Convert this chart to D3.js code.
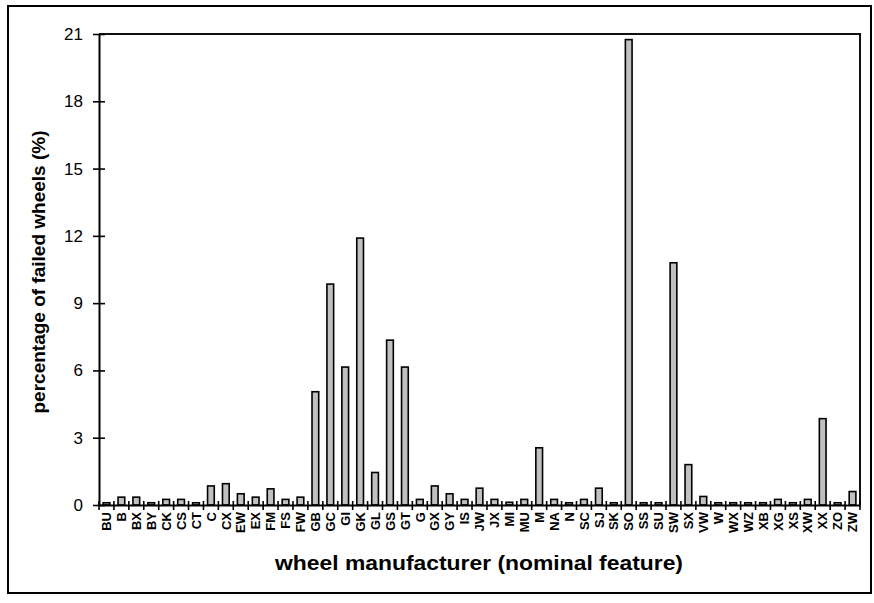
<!DOCTYPE html>
<html><head><meta charset="utf-8">
<script src="https://cdn.jsdelivr.net/npm/d3@7"></script>
<style>body{margin:0;background:#fff}svg{display:block}</style>
</head><body>
<svg id="c" width="874" height="603"></svg>
<script>
const categories = ["BU","B","BX","BY","CK","CS","CT","C","CX","EW","EX","FM","FS","FW","GB","GC","GI","GK","GL","GS","GT","G","GX","GY","IS","JW","JX","MI","MU","M","NA","N","SC","SJ","SK","SO","SS","SU","SW","SX","VW","W","WX","WZ","XB","XG","XS","XW","XX","ZO","ZW"];
const values = [0.1,0.35,0.35,0.1,0.25,0.25,0.1,0.85,0.95,0.5,0.35,0.72,0.25,0.35,5.05,9.85,6.15,11.9,1.45,7.35,6.15,0.25,0.85,0.5,0.25,0.75,0.25,0.12,0.25,2.55,0.25,0.1,0.25,0.75,0.1,20.75,0.1,0.1,10.8,1.8,0.38,0.1,0.1,0.1,0.1,0.25,0.1,0.25,3.85,0.1,0.6];
const yTicks = [0,3,6,9,12,15,18,21];
const xTitle = "wheel manufacturer (nominal feature)";
const yTitle = "percentage of failed wheels (%)";

const svg = d3.select("#c");
const L = 99, R = 860, T = 34, B = 505;
const x = d3.scaleBand().domain(categories).range([L, R]).paddingInner(0.45).paddingOuter(0.225);
const y = d3.scaleLinear().domain([0, 21]).range([B, T]);
const font = "'Liberation Sans', Arial, sans-serif";

// outer frame
svg.append("rect").attr("x", 8).attr("y", 6).attr("width", 863).attr("height", 587)
  .attr("fill", "#fff").attr("stroke", "#000").attr("stroke-width", 2);

// plot frame (top & right)
svg.append("path").attr("d", `M${L},${T}H${R}V${B}`).attr("fill", "none")
  .attr("stroke", "#111").attr("stroke-width", 2);

// bars
svg.append("g").selectAll("rect").data(categories).join("rect")
  .attr("x", d => x(d) + 0.75)
  .attr("width", x.bandwidth() - 1.5)
  .attr("y", (d, i) => y(values[i]))
  .attr("height", (d, i) => B - y(values[i]))
  .attr("fill", "#c0c0c0").attr("stroke", "#000").attr("stroke-width", 1.6);

// y axis
const ya = svg.append("g").attr("transform", `translate(${L},0)`)
  .call(d3.axisLeft(y).tickValues(yTicks).tickSize(0).tickPadding(16));
ya.select(".domain").attr("stroke", "#000").attr("stroke-width", 2);
ya.selectAll(".tick line").remove();
ya.selectAll(".tick").append("line").attr("x1", -6).attr("x2", 6).attr("stroke", "#000").attr("stroke-width", 1.6);
ya.selectAll(".tick text").attr("font-family", font).attr("font-size", 17).attr("fill", "#000");

// x axis
const xa = svg.append("g").attr("transform", `translate(0,${B})`)
  .call(d3.axisBottom(x).tickSize(0).tickPadding(0));
xa.select(".domain").attr("stroke", "#000").attr("stroke-width", 2);
xa.selectAll(".tick text")
  .attr("font-family", font).attr("font-size", 13).attr("font-weight", "bold").attr("fill", "#000")
  .attr("transform", "rotate(-90)").attr("text-anchor", "end")
  .attr("x", -7).attr("y", 0).attr("dy", "0.36em");
// separator ticks between categories
const seps = d3.range(categories.length + 1).map(i => L + i * (R - L) / categories.length);
xa.append("g").selectAll("line").data(seps).join("line")
  .attr("x1", d => d).attr("x2", d => d).attr("y1", -4).attr("y2", 5)
  .attr("stroke", "#000").attr("stroke-width", 1.6);

// titles
svg.append("text").attr("x", 479).attr("y", 570).attr("text-anchor", "middle")
  .attr("font-family", font).attr("font-size", 20).attr("font-weight", "bold")
  .attr("textLength", 408).attr("lengthAdjust", "spacingAndGlyphs").text(xTitle);
svg.append("text").attr("transform", "translate(45,272) rotate(-90)").attr("text-anchor", "middle")
  .attr("font-family", font).attr("font-size", 19).attr("font-weight", "bold").text(yTitle);
</script>
</body></html>
